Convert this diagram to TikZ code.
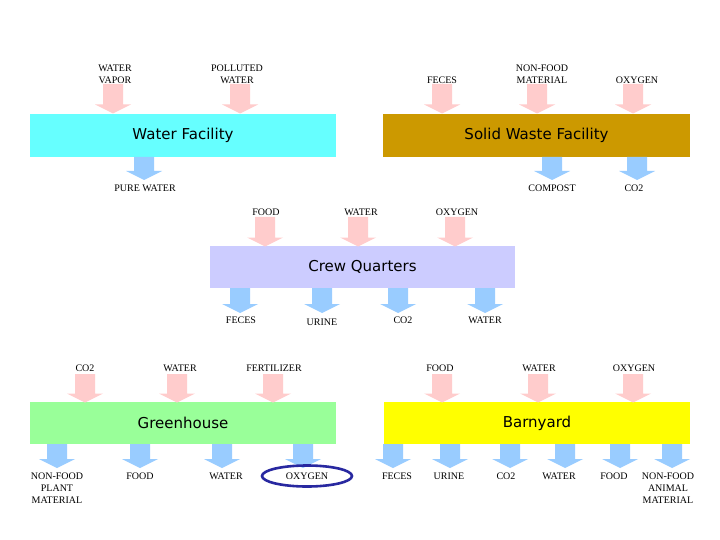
\documentclass[tikz,border=0pt]{standalone}
\usepackage{fontspec}
\setmainfont{Liberation Serif}
\newfontfamily\boxfont{DejaVu Sans}
\definecolor{inpink}{RGB}{255,204,204}
\definecolor{outblue}{RGB}{153,204,255}
\definecolor{watercyan}{RGB}{102,255,255}
\definecolor{wastegold}{RGB}{204,153,0}
\definecolor{crewlav}{RGB}{204,204,255}
\definecolor{greenh}{RGB}{153,255,153}
\definecolor{barnyel}{RGB}{255,255,0}
\definecolor{ringblue}{RGB}{40,40,160}
% block arrow: x, y top, y tip, colour
\newcommand\flowarrow[4]{\fill[#4] (#1-10,#2) -- (#1+10,#2) -- (#1+10,#3-9) -- (#1+18,#3-9) -- (#1,#3) -- (#1-18,#3-9) -- (#1-10,#3-9) -- cycle;}
\begin{document}
\begin{tikzpicture}[x=1pt,y=-1pt,
  lbl/.style={font=\fontsize{10}{12}\selectfont, align=center, inner sep=0pt},
  facility/.style={draw=none, minimum height=43, minimum width=306, inner sep=0pt, font=\boxfont\fontsize{15}{18}\selectfont}]
\useasboundingbox[fill=white] (0,0) rectangle (720,540);

% ---------- Water Facility ----------
\node[facility, fill=watercyan] (water) at (183,135.5) {Water Facility};
\flowarrow{113}{84}{113.5}{inpink}
\flowarrow{240}{84}{113.5}{inpink}
\flowarrow{144}{157}{180}{outblue}
\node[lbl] (wvap) at (115,74) {WATER\\VAPOR};
\node[lbl] (poll) at (237,74) {POLLUTED\\WATER};
\node[lbl] (pure) at (145,188) {PURE WATER};

% ---------- Solid Waste Facility ----------
\node[facility, fill=wastegold, minimum width=307] (waste) at (536.5,135.5) {Solid Waste Facility};
\flowarrow{442}{84}{113.5}{inpink}
\flowarrow{537}{84}{113.5}{inpink}
\flowarrow{633}{84}{113.5}{inpink}
\flowarrow{552}{157}{180}{outblue}
\flowarrow{637}{157}{180}{outblue}
\node[lbl] (sfec) at (442,80) {FECES};
\node[lbl] (snf) at (542,74) {NON-FOOD\\MATERIAL};
\node[lbl] (sox) at (637,80) {OXYGEN};
\node[lbl] (scomp) at (552,188) {COMPOST};
\node[lbl] (sco2) at (634,188) {CO2};

% ---------- Crew Quarters ----------
\node[facility, fill=crewlav, minimum width=305, minimum height=42] (crew) at (362.5,267) {Crew Quarters};
\flowarrow{265}{217}{246.5}{inpink}
\flowarrow{358}{217}{246.5}{inpink}
\flowarrow{455}{217}{246.5}{inpink}
\flowarrow{240}{288}{313}{outblue}
\flowarrow{322}{288}{313}{outblue}
\flowarrow{398}{288}{313}{outblue}
\flowarrow{485}{288}{313}{outblue}
\node[lbl] (cfood) at (266,212) {FOOD};
\node[lbl] (cwat) at (361,212) {WATER};
\node[lbl] (cox) at (457,212) {OXYGEN};
\node[lbl] (cfec) at (241,320) {FECES};
\node[lbl] (curi) at (322,322) {URINE};
\node[lbl] (cco2) at (403,320) {CO2};
\node[lbl] (cwo) at (485,320) {WATER};

% ---------- Greenhouse ----------
\node[facility, fill=greenh, minimum height=42] (green) at (183,423) {Greenhouse};
\flowarrow{85}{374}{402.5}{inpink}
\flowarrow{177}{374}{402.5}{inpink}
\flowarrow{273}{374}{402.5}{inpink}
\flowarrow{57}{444}{468}{outblue}
\flowarrow{140}{444}{468}{outblue}
\flowarrow{222}{444}{468}{outblue}
\flowarrow{303}{444}{468}{outblue}
\node[lbl] (gco2) at (85,368) {CO2};
\node[lbl] (gwat) at (180,368) {WATER};
\node[lbl] (gfert) at (274,368) {FERTILIZER};
\node[lbl] (gnf) at (57,488) {NON-FOOD\\PLANT\\MATERIAL};
\node[lbl] (gfood) at (140,476) {FOOD};
\node[lbl] (gwo) at (226,476) {WATER};
\node[lbl] (gox) at (307,476) {OXYGEN};
\draw[ringblue, line width=2.6pt] (gox) ellipse [x radius=45, y radius=10.5];

% ---------- Barnyard ----------
\node[facility, fill=barnyel, minimum height=42] (barn) at (537,423) {Barnyard};
\flowarrow{442}{374}{402.5}{inpink}
\flowarrow{538}{374}{402.5}{inpink}
\flowarrow{633}{374}{402.5}{inpink}
\flowarrow{393}{444}{468}{outblue}
\flowarrow{450}{444}{468}{outblue}
\flowarrow{510}{444}{468}{outblue}
\flowarrow{565}{444}{468}{outblue}
\flowarrow{620}{444}{468}{outblue}
\flowarrow{672}{444}{468}{outblue}
\node[lbl] (bfood) at (440,368) {FOOD};
\node[lbl] (bwat) at (539,368) {WATER};
\node[lbl] (box) at (634,368) {OXYGEN};
\node[lbl] (bfec) at (397,476) {FECES};
\node[lbl] (buri) at (449,476) {URINE};
\node[lbl] (bco2) at (506,476) {CO2};
\node[lbl] (bwo) at (559,476) {WATER};
\node[lbl] (bfo) at (614,476) {FOOD};
\node[lbl] (bnf) at (668,488) {NON-FOOD\\ANIMAL\\MATERIAL};
\end{tikzpicture}
\end{document}
